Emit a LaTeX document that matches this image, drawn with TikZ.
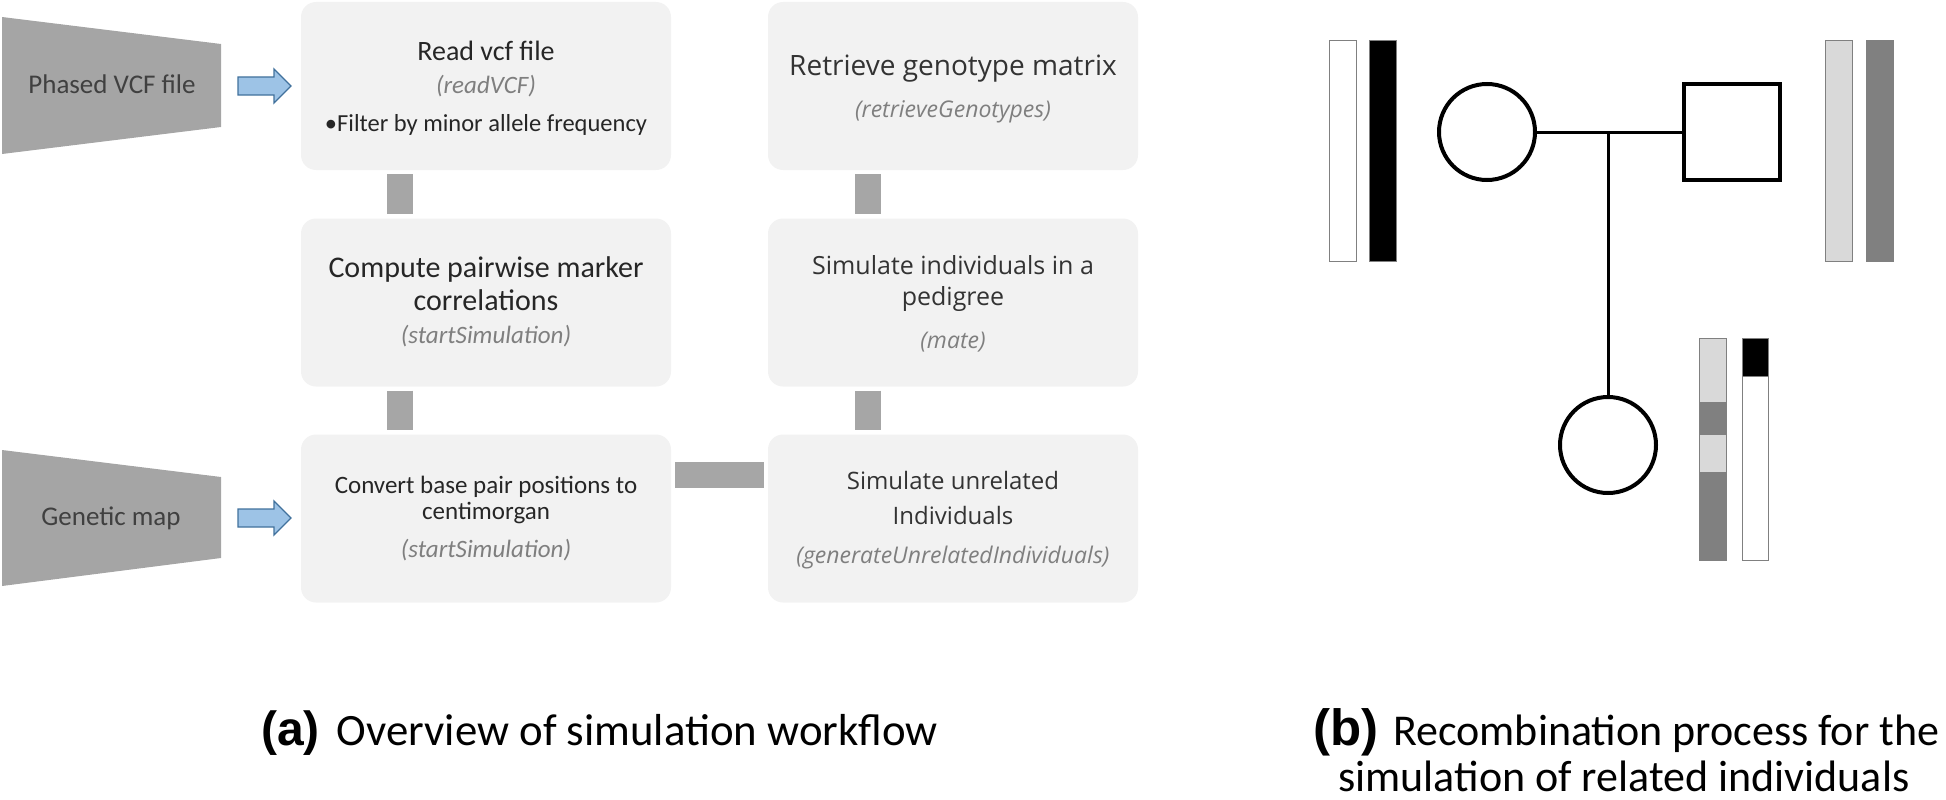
\documentclass[tikz,border=0pt]{standalone}
\usepackage{fontspec}
\setmainfont{Carlito}
\newfontfamily\osans{Open Sans}
\newfontfamily\lsans{Liberation Sans}
\definecolor{boxfill}{HTML}{F2F2F2}
\definecolor{conn}{HTML}{A6A6A6}
\definecolor{txt}{HTML}{262626}
\definecolor{txttwo}{HTML}{333333}
\definecolor{ital}{HTML}{7F7F7F}
\definecolor{trap}{HTML}{A5A5A5}
\definecolor{traptxt}{HTML}{404040}
\definecolor{arrfill}{HTML}{9DC3E6}
\definecolor{arrdraw}{HTML}{41719C}
\definecolor{chlight}{HTML}{D9D9D9}
\definecolor{chdark}{HTML}{808080}
\newcommand{\fsz}[1]{\fontsize{#1}{#1}\selectfont}
\begin{document}
\begin{tikzpicture}[x=1pt,y=-1pt,
 box/.style={fill=boxfill, rounded corners=15pt, minimum width=370pt, minimum height=168pt, inner sep=0pt},
 lbl/.style={anchor=base, inner sep=0pt, text=txt},
 lbltwo/.style={anchor=base, inner sep=0pt, text=txttwo},
 fn/.style={anchor=base, inner sep=0pt, text=ital},
 bar/.style={draw=conn, line width=26pt, shorten <=4pt, shorten >=4pt},
 blockarrow/.style={draw=arrdraw, fill=arrfill, line width=1.3pt, line join=miter},
 trapz/.style={fill=trap},
 traplbl/.style={anchor=base, inner sep=0pt, text=traptxt, font=\fsz{27}},
 chrom/.style={draw=chdark, line width=1pt},
 ped/.style={draw=black, line width=4pt, inner sep=0pt, minimum size=96pt},
 pedline/.style={draw=black, line width=3pt},
 captext/.style={inner sep=0pt, text=black, anchor=base west, font=\fsz{44.8}}]
\useasboundingbox (0,0) rectangle (1946,800);

% ---------- input trapezoids ----------
\fill[trapz] (2,17) -- (221,44) -- (221,127) -- (2,154) -- cycle;
\node[traplbl] (vcf) at (112,93) {Phased VCF file};
\fill[trapz] (2,450) -- (221,477) -- (221,558) -- (2,586) -- cycle;
\node[traplbl] (gmap) at (111,525) {Genetic map};

% ---------- block arrows ----------
\draw[blockarrow] (238,77) -- (274,77) -- (274,69) -- (291,86) -- (274,103) -- (274,95) -- (238,95) -- cycle;
\draw[blockarrow] (238,509) -- (274,509) -- (274,501) -- (291,518) -- (274,535) -- (274,527) -- (238,527) -- cycle;

% ---------- boxes ----------
\node[box] (b1) at (486,86) {};
\node[box] (b2) at (486,302.5) {};
\node[box] (b3) at (486,518.5) {};
\node[box] (b4) at (953,86) {};
\node[box] (b5) at (953,302.5) {};
\node[box] (b6) at (953,518.5) {};

% ---------- connectors ----------
\coordinate (c1) at (400,0);
\coordinate (c2) at (867.5,0);
\coordinate (h) at (0,475);
\draw[bar] (b1.south -| c1) -- (b2.north -| c1);
\draw[bar] (b2.south -| c1) -- (b3.north -| c1);
\draw[bar] (b4.south -| c2) -- (b5.north -| c2);
\draw[bar] (b5.south -| c2) -- (b6.north -| c2);
\draw[bar] (b3.east |- h) -- (b6.west |- h);

% ---------- column 1 text ----------
\node[lbl, font=\fsz{28}] (t1) at (486,60) {Read vcf file};
\node[fn, font=\fsz{25}\itshape] (f1) at (486,93) {(readVCF)};
\node[lbl, font=\fsz{24.5}] (t1b) at (486,131) {\textbullet Filter by minor allele frequency};
\node[lbl, font=\fsz{30}] (t2) at (486,277) {Compute pairwise marker};
\node[lbl, font=\fsz{30}] (t2b) at (486,310) {correlations};
\node[fn, font=\fsz{25}\itshape] (f2) at (486,343) {(startSimulation)};
\node[lbl, font=\fsz{25}] (t3) at (486,493) {Convert base pair positions to};
\node[lbl, font=\fsz{25}] (t3b) at (486,519) {centimorgan};
\node[fn, font=\fsz{25}\itshape] (f3) at (486,557) {(startSimulation)};

% ---------- column 2 text ----------
\node[lbltwo, font=\osans\fsz{28}] (t4) at (953,75) {Retrieve genotype matrix};
\node[fn, font=\osans\fsz{23}\itshape] (f4) at (953,117) {(retrieveGenotypes)};
\node[lbltwo, font=\osans\fsz{25}] (t5) at (953,274) {Simulate individuals in a};
\node[lbltwo, font=\osans\fsz{25}] (t5b) at (953,305) {pedigree};
\node[fn, font=\osans\fsz{23}\itshape] (f5) at (953,348) {(mate)};
\node[lbltwo, font=\osans\fsz{24}] (t6) at (953,489) {Simulate unrelated};
\node[lbltwo, font=\osans\fsz{24}] (t6b) at (953,524) {Individuals};
\node[fn, font=\osans\fsz{23}\itshape] (f6) at (953,563) {(generateUnrelatedIndividuals)};

% ---------- pedigree ----------
\draw[chrom, fill=white] (1329,41) rectangle (1356,261);
\draw[chrom, fill=black] (1369,41) rectangle (1396,261);
\draw[chrom, fill=chlight] (1825,41) rectangle (1852,261);
\draw[chrom, fill=chdark] (1866,41) rectangle (1893,261);

\node[ped, circle] (mom) at (1487,132) {};
\node[ped, rectangle] (dad) at (1732,132) {};
\node[ped, circle] (kid) at (1608,445) {};
\coordinate (m) at (kid.north |- mom.east);
\draw[pedline] (mom.east) -- (dad.west);
\draw[pedline] (m) -- (kid.north);

\draw[chrom, fill=chlight] (1699,338) rectangle (1726,402);
\draw[chrom, fill=chdark] (1699,402) rectangle (1726,434);
\draw[chrom, fill=chlight] (1699,434) rectangle (1726,472);
\draw[chrom, fill=chdark] (1699,472) rectangle (1726,560);
\draw[chrom, fill=black] (1742,338) rectangle (1768,376);
\draw[chrom, fill=white] (1742,376) rectangle (1768,560);

% ---------- captions ----------
\node[captext] (capa) at (261,745) {{\lsans\fsz{48}\bfseries (a)}\hspace{17pt}Overview of simulation workflow};
\node[captext, font=\fsz{44}] (capb) at (1313,745) {{\lsans\fsz{51}\bfseries (b)}\hspace{15pt}Recombination process for the};
\node[captext, font=\fsz{44}] (capb2) at (1338,791) {simulation of related individuals};
\end{tikzpicture}
\end{document}
